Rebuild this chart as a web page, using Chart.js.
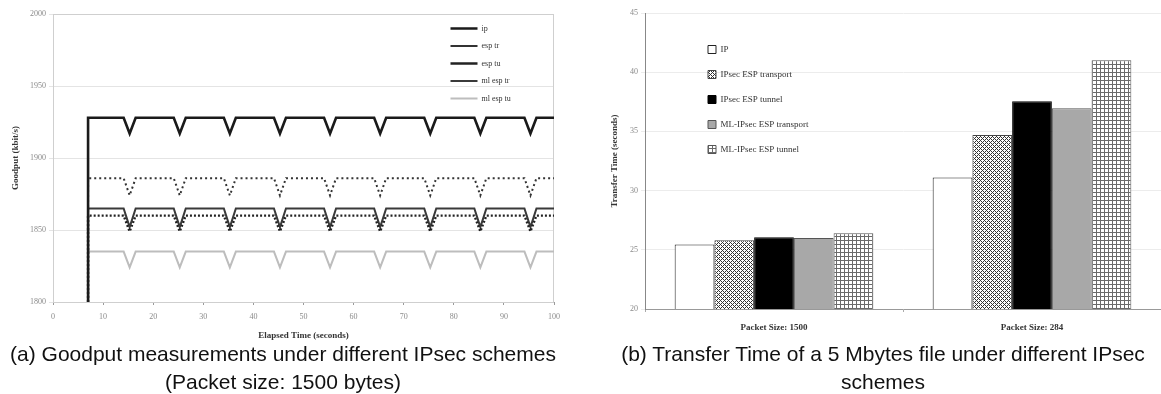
<!DOCTYPE html>
<html>
<head>
<meta charset="utf-8">
<script src="https://cdn.jsdelivr.net/npm/chart.js@4.4.1/dist/chart.umd.min.js"></script>
<style>
  body { margin: 0; background: #fff; width: 1161px; height: 394px; overflow: hidden; position: relative; font-family: "Liberation Sans", Arial, sans-serif; }
  #boxA { position: absolute; left: 0; top: 0; width: 570px; height: 345px; }
  #boxB { position: absolute; left: 580px; top: 0; width: 581px; height: 345px; }
  .cap { position: absolute; top: 340px; font-size: 21px; line-height: 28px; text-align: center; color: #111; white-space: nowrap; }
  #capA { left: 0; width: 566px; }
  #capB { left: 600px; width: 566px; }
</style>
</head>
<body>
<div id="boxA"><canvas id="goodputChart"></canvas></div>
<div id="boxB"><canvas id="transferChart"></canvas></div>
<div class="cap" id="capA">(a) Goodput measurements under different IPsec schemes<br>(Packet size: 1500 bytes)</div>
<div class="cap" id="capB">(b) Transfer Time of a 5 Mbytes file under different IPsec<br>schemes</div>

<script>
// left chart: goodput over time (kbit/s)
var timeSec = [7, 7, 14.1, 15.3, 16.5, 24.1, 25.3, 26.5, 34.1, 35.3, 36.5, 44.1, 45.3, 46.5, 54.1, 55.3, 56.5,
               64.1, 65.3, 66.5, 74.1, 75.3, 76.5, 84.1, 85.3, 86.5, 94.1, 95.3, 96.5, 100];
var ipVals      = [1800, 1928, 1928, 1917, 1928, 1928, 1917, 1928, 1928, 1917, 1928, 1928, 1917, 1928, 1928, 1917, 1928,
                   1928, 1917, 1928, 1928, 1917, 1928, 1928, 1917, 1928, 1928, 1917, 1928, 1928];
var espTrVals   = [1800, 1886, 1886, 1874, 1886, 1886, 1874, 1886, 1886, 1874, 1886, 1886, 1874, 1886, 1886, 1874, 1886,
                   1886, 1874, 1886, 1886, 1874, 1886, 1886, 1874, 1886, 1886, 1874, 1886, 1886];
var espTuVals   = [1800, 1860, 1860, 1849, 1860, 1860, 1849, 1860, 1860, 1849, 1860, 1860, 1849, 1860, 1860, 1849, 1860,
                   1860, 1849, 1860, 1860, 1849, 1860, 1860, 1849, 1860, 1860, 1849, 1860, 1860];
var mlEspTrVals = [1800, 1865, 1865, 1852, 1865, 1865, 1852, 1865, 1865, 1852, 1865, 1865, 1852, 1865, 1865, 1852, 1865,
                   1865, 1852, 1865, 1865, 1852, 1865, 1865, 1852, 1865, 1865, 1852, 1865, 1865];
var mlEspTuVals = [1800, 1835, 1835, 1824, 1835, 1835, 1824, 1835, 1835, 1824, 1835, 1835, 1824, 1835, 1835, 1824, 1835,
                   1835, 1824, 1835, 1835, 1824, 1835, 1835, 1824, 1835, 1835, 1824, 1835, 1835];
var lineLabels = ["ip", "esp tr", "esp tu", "ml esp tr", "ml esp tu"];

// right chart: transfer time (seconds)
var packetSizes = ["Packet Size: 1500", "Packet Size: 284"];
var barLabels = ["IP", "IPsec ESP transport", "IPsec ESP tunnel", "ML-IPsec ESP transport", "ML-IPsec ESP tunnel"];
var ipTime      = [25.45, 31.1];
var espTrTime   = [25.8, 34.7];
var espTuTime   = [26.05, 37.55];
var mlEspTrTime = [26.0, 36.95];
var mlEspTuTime = [26.4, 41.0];

var serif = "'Liberation Serif', 'Times New Roman', serif";

function pts(vals) {
  return timeSec.map(function(t, i) { return { x: t, y: vals[i] }; });
}

function makePattern(kind) {
  var c = document.createElement("canvas");
  c.width = 4; c.height = 4;
  var g = c.getContext("2d");
  g.fillStyle = "#fff";
  g.fillRect(0, 0, 4, 4);
  g.fillStyle = kind == "hatch" ? "#333" : "#6a6a6a";
  for (var x = 0; x < 4; x++) {
    for (var y = 0; y < 4; y++) {
      var on = kind == "hatch" ? ((x + y) % 4 == 0 || (x - y + 4) % 4 == 0) : (x == 0 || y == 0);
      if (on) g.fillRect(x, y, 1, 1);
    }
  }
  return g.createPattern(c, "repeat");
}

// moves a legend placed in the chart area to a fixed spot
var legendSpot = {
  id: "legendSpot",
  afterLayout: function(chart, args, opts) {
    var lg = chart.legend;
    if (!lg) return;
    var w = lg.width, h = lg.height;
    lg.left = opts.x; lg.top = opts.y;
    lg.right = opts.x + w; lg.bottom = opts.y + h;
  }
};

var plotBorder = {
  id: "plotBorder",
  beforeDatasetsDraw: function(chart, args, opts) {
    if (!opts.color) return;
    var a = chart.chartArea, ctx = chart.ctx;
    ctx.save();
    ctx.strokeStyle = opts.color;
    ctx.lineWidth = 1;
    ctx.strokeRect(a.left + 0.5, a.top + 0.5, a.right - a.left - 1, a.bottom - a.top);
    ctx.restore();
  }
};

Chart.register(legendSpot, plotBorder);

new Chart("goodputChart", {
  type: "line",
  data: {
    datasets: [
      { label: lineLabels[0], data: pts(ipVals), borderColor: "#1a1a1a", backgroundColor: "#1a1a1a", borderWidth: 2.6 },
      { label: lineLabels[1], data: pts(espTrVals), borderColor: "#333", backgroundColor: "#333", borderWidth: 2, borderDash: [2, 3] },
      { label: lineLabels[2], data: pts(espTuVals), borderColor: "#222", backgroundColor: "#222", borderWidth: 2.4, borderDash: [2, 2] },
      { label: lineLabels[3], data: pts(mlEspTrVals), borderColor: "#3a3a3a", backgroundColor: "#3a3a3a", borderWidth: 2 },
      { label: lineLabels[4], data: pts(mlEspTuVals), borderColor: "#bdbdbd", backgroundColor: "#bdbdbd", borderWidth: 2 }
    ]
  },
  options: {
    responsive: true,
    maintainAspectRatio: false,
    animation: false,
    layout: { padding: { top: 14, right: 16, left: 6, bottom: 0 } },
    elements: { point: { radius: 0, pointStyle: "line" }, line: { tension: 0 } },
    plugins: {
      legend: {
        position: "chartArea",
        align: "start",
        labels: {
          usePointStyle: true, pointStyleWidth: 27, boxHeight: 8,
          padding: 9.5, color: "#333", font: { family: serif, size: 8 }
        }
      },
      tooltip: { enabled: false },
      legendSpot: { x: 441, y: 15 },
      plotBorder: { color: "#cfcfcf" }
    },
    scales: {
      x: {
        type: "linear", min: 0, max: 100,
        ticks: { stepSize: 10, color: "#8a8a8a", font: { family: serif, size: 8 }, padding: 7 },
        grid: { drawOnChartArea: false, tickLength: 3, color: "#9a9a9a" },
        border: { color: "#9a9a9a" },
        title: { display: true, text: "Elapsed Time (seconds)", color: "#333", font: { family: serif, size: 9, weight: "bold" }, padding: { top: 2 } },
        afterFit: function(s) { s.height = 43; }
      },
      y: {
        min: 1800, max: 2000,
        ticks: { stepSize: 50, color: "#8a8a8a", font: { family: serif, size: 8 }, padding: 3, format: { useGrouping: false } },
        grid: { color: "#e4e4e4", tickLength: 4 },
        border: { color: "#777" },
        title: { display: true, text: "Goodput (kbit/s)", color: "#333", font: { family: serif, size: 9, weight: "bold" } },
        afterFit: function(s) { s.width = 47; }
      }
    }
  }
});

new Chart("transferChart", {
  type: "bar",
  data: {
    labels: packetSizes,
    datasets: [
      { label: barLabels[0], data: ipTime, backgroundColor: "#fff", borderColor: "#222", borderWidth: 1 },
      { label: barLabels[1], data: espTrTime, backgroundColor: makePattern("hatch"), borderColor: "#444", borderWidth: 1 },
      { label: barLabels[2], data: espTuTime, backgroundColor: "#000", borderColor: "#000", borderWidth: 1 },
      { label: barLabels[3], data: mlEspTrTime, backgroundColor: "#a8a8a8", borderColor: "#555", borderWidth: 1 },
      { label: barLabels[4], data: mlEspTuTime, backgroundColor: makePattern("grid"), borderColor: "#555", borderWidth: 1 }
    ]
  },
  options: {
    responsive: true,
    maintainAspectRatio: false,
    animation: false,
    layout: { padding: { top: 13, right: 0, left: 25, bottom: 0 } },
    datasets: { bar: { barPercentage: 1, categoryPercentage: 0.77 } },
    plugins: {
      legend: {
        position: "chartArea",
        align: "start",
        labels: {
          boxWidth: 8, boxHeight: 8, padding: 16, color: "#333",
          font: { family: serif, size: 9 }
        }
      },
      tooltip: { enabled: false },
      legendSpot: { x: 112, y: 29 },
      plotBorder: { color: null }
    },
    scales: {
      x: {
        ticks: { color: "#333", font: { family: serif, size: 9, weight: "bold" }, padding: 10 },
        grid: { drawOnChartArea: false, offset: true, tickLength: 3, color: "#aaa" },
        border: { color: "#999" },
        afterFit: function(s) { s.height = 36; }
      },
      y: {
        min: 20, max: 45,
        ticks: { stepSize: 5, color: "#8a8a8a", font: { family: serif, size: 8 }, padding: 3 },
        grid: { color: "#ececec", tickLength: 4 },
        border: { color: "#888" },
        title: { display: true, text: "Transfer Time (seconds)", color: "#333", font: { family: serif, size: 9, weight: "bold" } },
        afterFit: function(s) { s.width = 40; }
      }
    }
  }
});
</script>
</body>
</html>
